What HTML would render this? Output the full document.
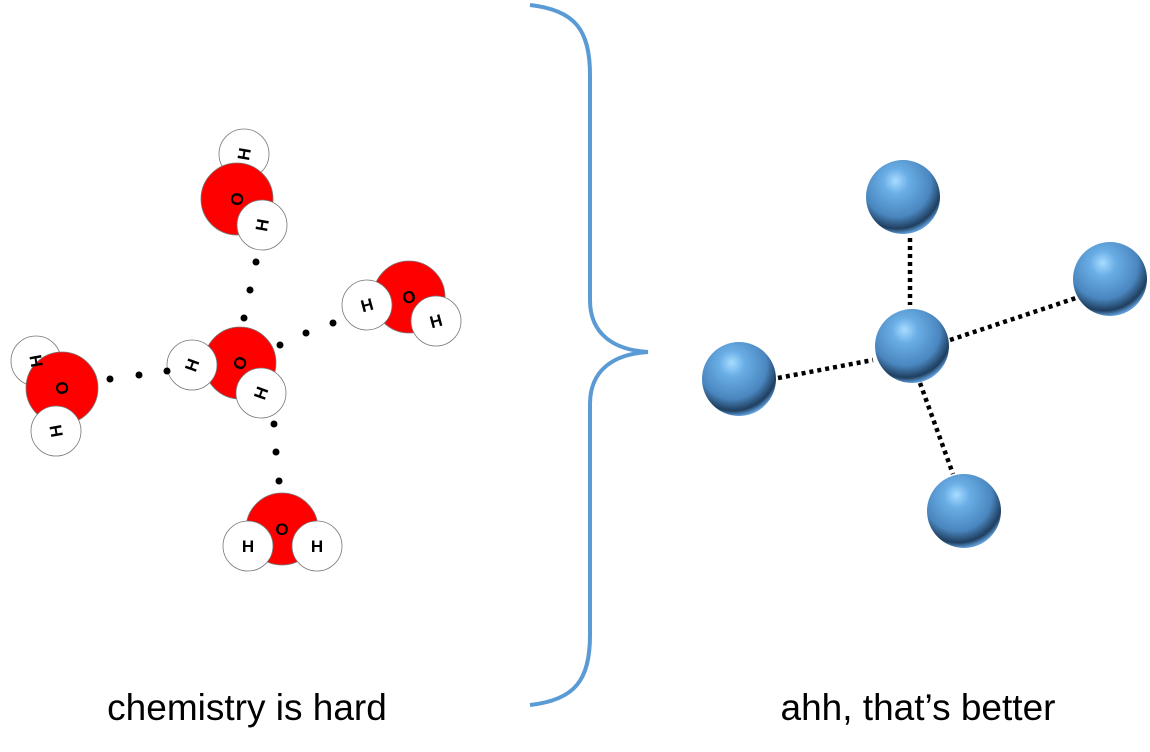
<!DOCTYPE html>
<html><head><meta charset="utf-8"><style>
html,body{margin:0;padding:0;background:#fff;width:1150px;height:752px;overflow:hidden}
svg{display:block}
text{font-family:"Liberation Sans",sans-serif}
</style></head><body>
<svg width="1150" height="752" viewBox="0 0 1150 752">
<defs>
<radialGradient id="sph" cx="0.42" cy="0.32" r="0.68" fx="0.4" fy="0.28">
<stop offset="0" stop-color="#a8dcff"/>
<stop offset="0.25" stop-color="#6aaee6"/>
<stop offset="0.68" stop-color="#4a86bf"/>
<stop offset="0.9" stop-color="#1f3e5e"/>
<stop offset="1" stop-color="#5d9ad6"/>
</radialGradient>
</defs>
<g id="left"></g>
<g fill="#000">
<circle cx="256" cy="262" r="3.5"/><circle cx="250" cy="290" r="3.5"/><circle cx="244" cy="318" r="3.5"/>
<circle cx="280" cy="345" r="3.5"/><circle cx="306" cy="333" r="3.5"/><circle cx="333" cy="323" r="3.5"/>
<circle cx="110" cy="379" r="3.5"/><circle cx="139" cy="375" r="3.5"/><circle cx="167" cy="371" r="3.5"/>
<circle cx="274" cy="424" r="3.5"/><circle cx="276" cy="452" r="3.5"/><circle cx="279" cy="481" r="3.5"/>
</g>
<path d="M530 5 C575 10 590 30 590 75 L590 300 C590 335 615 350 648 352 C615 354 590 369 590 404 L590 635 C590 680 575 700 530 705" fill="none" stroke="#5b9bd5" stroke-width="4"/>
<g stroke="#000" stroke-width="4.5" stroke-dasharray="4 4" fill="none">
<line x1="910" y1="238" x2="910" y2="305"/>
<line x1="950" y1="340" x2="1076" y2="298"/>
<line x1="778" y1="378" x2="873" y2="360"/>
<line x1="920" y1="383" x2="953" y2="474"/>
</g>
<g fill="url(#sph)">
<circle cx="903" cy="197" r="37"/>
<circle cx="1110" cy="279" r="37"/>
<circle cx="739" cy="379" r="37"/>
<circle cx="964" cy="511" r="37"/>
<circle cx="912" cy="346" r="37"/>
</g>
<text x="247" y="720" font-size="37" text-anchor="middle" fill="#000">chemistry is hard</text>
<text x="918" y="720" font-size="37" text-anchor="middle" fill="#000">ahh, that’s better</text>
</svg>
<script>
const ns='http://www.w3.org/2000/svg';
const g=document.getElementById('left');
const mols=[
 {o:[237,199],h:[[244,154,1],[262,225,0]],rot:-80},
 {o:[240,363],h:[[192,365,0],[261,393,0]],rot:-70},
 {o:[409,297],h:[[367,305,0],[436,321,0]],rot:-15},
 {o:[62,388],h:[[36,361,1],[56,431,0]],rot:-100},
 {o:[282,529],h:[[248,546,0],[317,546,0]],rot:0}
];
function txt(x,y,s,rot){
 const t=document.createElementNS(ns,'text');
 t.setAttribute('x',x);t.setAttribute('y',y+6);
 t.setAttribute('font-size','17');t.setAttribute('font-weight','bold');
 t.setAttribute('text-anchor','middle');
 t.setAttribute('transform','rotate('+rot+' '+x+' '+y+')');
 t.textContent=s;
 
 
 return t;
}
function hc(h){
 const c=document.createElementNS(ns,'circle');
 c.setAttribute('cx',h[0]);c.setAttribute('cy',h[1]);c.setAttribute('r',25);
 c.setAttribute('fill','#fff');c.setAttribute('stroke','#777');c.setAttribute('stroke-width','0.8');
 
 
 return c;
}
mols.forEach(m=>{
 const mg=document.createElementNS(ns,'g');
 
 
 m.h.filter(h=>h[2]).forEach(h=>mg.appendChild(hc(h)));
 const c=document.createElementNS(ns,'circle');
 c.setAttribute('cx',m.o[0]);c.setAttribute('cy',m.o[1]);c.setAttribute('r',36);
 c.setAttribute('fill','#ff0000');c.setAttribute('stroke','#777');c.setAttribute('stroke-width','0.8');
 
 
 mg.appendChild(c);
 m.h.filter(h=>!h[2]).forEach(h=>mg.appendChild(hc(h)));
 m.h.forEach(h=>mg.appendChild(txt(h[0],h[1],'H',m.rot)));
 mg.appendChild(txt(m.o[0],m.o[1],'O',m.rot));
 g.appendChild(mg);
});
</script>
</body></html>
